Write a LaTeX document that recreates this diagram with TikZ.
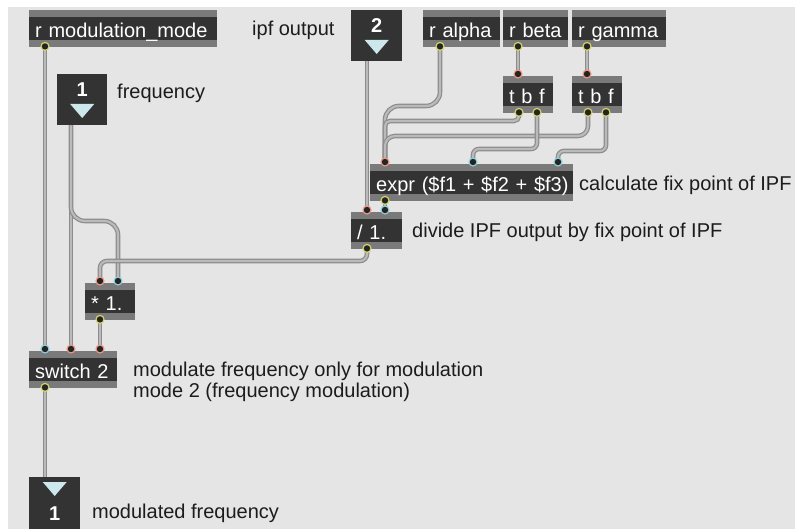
\documentclass[tikz,border=0pt]{standalone}
\usepackage{fontspec}
\setmainfont{Liberation Sans}
\usetikzlibrary{calc,backgrounds}
\definecolor{patchbg}{RGB}{229,229,229}
\definecolor{boxdark}{RGB}{51,51,51}
\definecolor{boxbar}{RGB}{122,122,122}
\definecolor{cordedge}{RGB}{140,140,140}
\definecolor{cordmid}{RGB}{186,186,186}
\definecolor{inhot}{RGB}{238,150,132}
\definecolor{incold}{RGB}{140,208,222}
\definecolor{outlet}{RGB}{214,214,108}
\definecolor{tricol}{RGB}{204,232,236}
\definecolor{notecol}{RGB}{28,28,28}
\newcommand\maxfont{\fontsize{20}{21}\selectfont}
\begin{document}
\begin{tikzpicture}[x=1pt,y=-1pt,
obj/.style={anchor=north west,fill=boxdark,text=white,font=\maxfont,text width=#1,align=left,inner xsep=6pt,inner ysep=0pt,minimum height=37pt,text height=19pt,text depth=2pt,
 path picture={\fill[boxbar](path picture bounding box.north west)rectangle($(path picture bounding box.north east)+(0,7)$);\fill[boxbar]($(path picture bounding box.south west)+(0,-7)$)rectangle(path picture bounding box.south east);}},
numbox/.style={anchor=north west,fill=boxdark,minimum width=#1,minimum height=51pt,inner sep=0pt},
digit/.style={anchor=base,text=white,font=\maxfont\bfseries,inner sep=0pt},
note/.style={anchor=base west,text=notecol,font=\maxfont,inner sep=0pt},
cord/.style={draw=cordedge,line width=1.2pt,double=cordmid,double distance=2.2pt}]
\useasboundingbox(0,0)rectangle(795,529);
\node[obj=176pt](modmode)at(29,10){\mbox{r modulation\_mode}};
\node[obj=65pt](ralpha)at(423,10){r alpha};
\node[obj=53pt](rbeta)at(503,10){r beta};
\node[obj=82pt](rgamma)at(572,10){r gamma};
\node[obj=38pt](tbfa)at(503,76){\mbox{t b f}};
\node[obj=38pt](tbfb)at(572,76){\mbox{t b f}};
\node[obj=191pt](expr)at(370,164){\mbox{expr (\$f1 + \$f2 + \$f3)}};
\node[obj=39pt](divide)at(351,212){/ 1.};
\node[obj=38pt](mult)at(85,283){* 1.};
\node[obj=76pt](switch)at(29,351){\mbox{switch 2}};
\node[numbox=51pt](ipf)at(351,10){};
\node[numbox=50pt](freq)at(57,74){};
\node[numbox=51pt,minimum height=52pt](outnum)at(29,477){};
\node[digit](ipfval)at($(ipf.north)+(0,23)$){2};
\node[digit](freqval)at($(freq.north)+(0,23)$){1};
\node[digit](outval)at($(outnum.north)+(0,43)$){1};
\foreach\b/\dy in{ipf/30,freq/30,outnum/5}{\fill[tricol]($(\b.north)+(-12,\dy)$)--++(24,0)--++(-12,14)--cycle;}
\foreach\b/\k/\dx in{tbfa/i1/15,tbfb/i1/15,expr/i1/15,expr/i2/103,expr/i3/188,divide/i1/16,divide/i2/34,mult/i1/15,mult/i2/33,switch/i1/16,switch/i2/42,switch/i3/71}{\coordinate(\b-\k)at($(\b.north west)+(\dx,-2)$);}
\foreach\b/\k/\dx in{modmode/o1/16,ralpha/o1/17,rbeta/o1/15,rgamma/o1/15,tbfa/o1/16,tbfa/o2/34,tbfb/o1/16,tbfb/o2/34,expr/o1/15,divide/o1/16,mult/o1/15,switch/o1/16}{\coordinate(\b-\k)at($(\b.south west)+(\dx,-1)$);}
\coordinate(ipf-o1)at($(ipf.south west)+(16,0)$);
\coordinate(freq-o1)at($(freq.south west)+(14,0)$);
\coordinate(outnum-i1)at($(outnum.north west)+(16,0)$);
\begin{scope}[on background layer]
\fill[white](0,0)rectangle(795,529);
\fill[patchbg](8,7)rectangle(795,529);
\draw[cord](modmode-o1)--(switch-i1);
\draw[cord](freq-o1)--(switch-i2);
\draw[cord,rounded corners=14](freq-o1)|-($(mult-i2)+(0,-60)$)--(mult-i2);
\draw[cord,rounded corners=7](divide-o1)|-($(mult-i1)+(0,-20)$)--(mult-i1);
\draw[cord](mult-o1)--(switch-i3);
\draw[cord](switch-o1)--(outnum-i1);
\draw[cord](ipf-o1)--(divide-i1);
\draw[cord](expr-o1)--(divide-i2);
\draw[cord](rbeta-o1)--(tbfa-i1);
\draw[cord](rgamma-o1)--(tbfb-i1);
\draw[cord,rounded corners=14](ralpha-o1)|-($(expr-i1)+(0,-56)$)--(expr-i1);
\draw[cord,rounded corners=5](tbfa-o1)|-($(expr-i1)+(0,-41)$)--(expr-i1);
\draw[cord,rounded corners=10](tbfb-o1)|-($(expr-i1)+(0,-26)$)--(expr-i1);
\draw[cord,rounded corners=6](tbfa-o2)|-($(expr-i2)+(0,-13)$)--(expr-i2);
\draw[cord,rounded corners=6](tbfb-o2)|-($(expr-i3)+(0,-11)$)--(expr-i3);
\end{scope}
\foreach\p/\c in{modmode-o1/outlet,ralpha-o1/outlet,rbeta-o1/outlet,rgamma-o1/outlet,tbfa-i1/inhot,tbfa-o1/outlet,tbfa-o2/outlet,tbfb-i1/inhot,tbfb-o1/outlet,tbfb-o2/outlet,expr-i1/inhot,expr-i2/incold,expr-i3/incold,expr-o1/outlet,divide-i1/inhot,divide-i2/incold,divide-o1/outlet,mult-i1/inhot,mult-i2/incold,mult-o1/outlet,switch-i1/incold,switch-i2/inhot,switch-i3/inhot,switch-o1/outlet}{\fill[\c](\p)circle(4.6);\fill[boxdark!70!black](\p)circle(3.2);}
\node[note](ipfnote)at(252,36){ipf output};
\node[note](freqnote)at(117,99){frequency};
\node[note](exprnote)at(579,191){calculate fix point of IPF};
\node[note](divnote)at(412,238){divide IPF output by fix point of IPF};
\node[note,anchor=north west,align=left](swnote)at(133,362){modulate frequency only for modulation\\mode 2 (frequency modulation)};
\node[note](outnote)at(92,518){modulated frequency};
\end{tikzpicture}
\end{document}
